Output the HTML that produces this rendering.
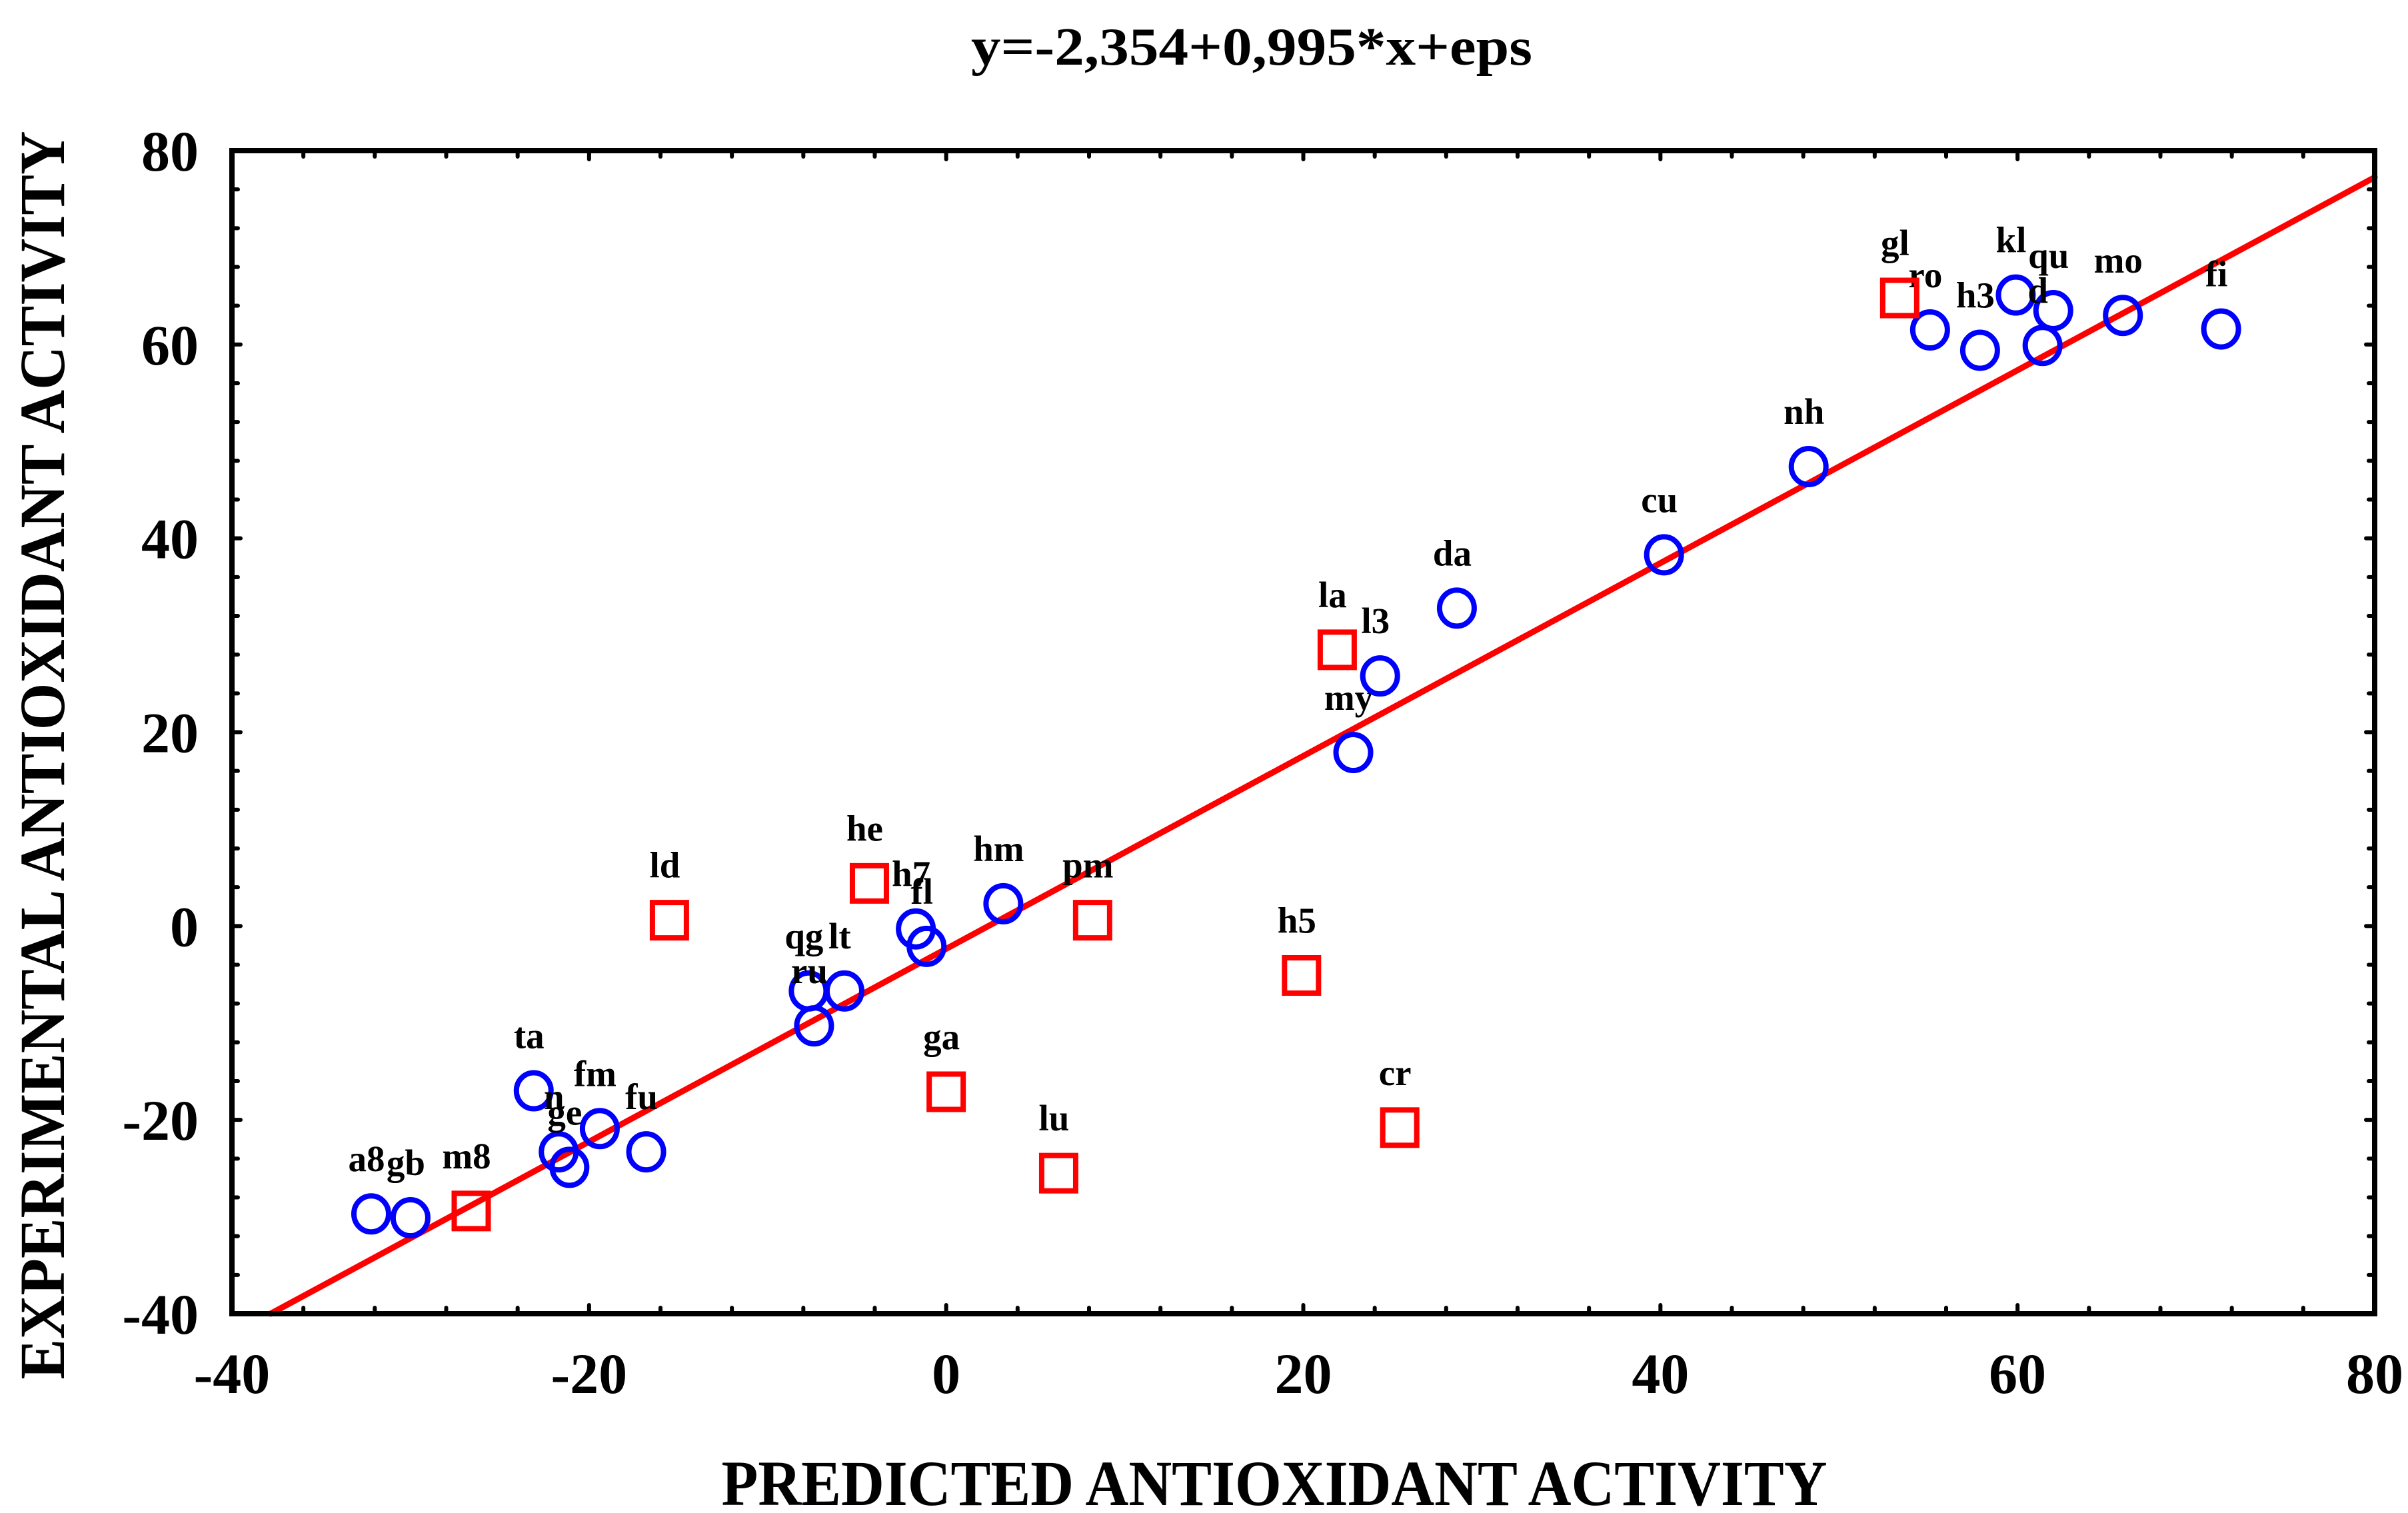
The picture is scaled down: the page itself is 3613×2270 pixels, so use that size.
<!DOCTYPE html>
<html><head><meta charset="utf-8"><style>
html,body{margin:0;padding:0;background:#fff}
svg{display:block}
text{font-family:"Liberation Serif",serif;font-weight:bold;fill:#000}
</style></head><body>
<svg id="chart" width="3613" height="2270" viewBox="0 0 3613 2270" xmlns="http://www.w3.org/2000/svg">
<text x="1878" y="97" font-size="80" text-anchor="middle" textLength="842" lengthAdjust="spacingAndGlyphs">y=-2,354+0,995*x+eps</text>
<text x="1912" y="2258" font-size="96" text-anchor="middle" textLength="1659" lengthAdjust="spacingAndGlyphs">PREDICTED ANTIOXIDANT ACTIVITY</text>
<text transform="translate(96,1133) rotate(-90)" x="0" y="0" font-size="96" text-anchor="middle" textLength="1873" lengthAdjust="spacingAndGlyphs">EXPERIMENTAL ANTIOXIDANT ACTIVITY</text>
<g id="ticks"></g>
<g id="fit"></g>
<g id="marks"></g>
<rect x="348" y="226" width="3215" height="1745" fill="none" stroke="#000" stroke-width="8"/>
</svg>
<script>
const xTicks = [-40, -20, 0, 20, 40, 60, 80];
const yTicks = [-40, -20, 0, 20, 40, 60, 80];
const fitIntercept = -2.354;
const fitSlope = 0.995;
const circleNames = ["a8","gb","ta","n","ge","fm","fu","qg","ru","lt","h7","fl","hm","my","l3","da","cu","nh","ro","h3","kl","qu","d","mo","fi"];
const circleX = [-32.2,-30.0,-23.1,-21.7,-21.1,-19.4,-16.8,-7.7,-7.4,-5.7,-1.7,-1.1,3.2,22.8,24.3,28.6,40.2,48.3,55.1,57.9,59.9,62.0,61.4,65.9,71.4];
const circleY = [-29.7,-30.1,-17.0,-23.3,-24.9,-20.9,-23.3,-6.7,-10.3,-6.7,-0.3,-2.1,2.3,17.9,25.8,32.8,38.3,47.4,61.5,59.4,65.1,63.5,59.9,63.0,61.6];
const squareNames = ["m8","ld","he","ga","lu","pm","h5","cr","la","gl"];
const squareX = [-26.6,-15.5,-4.3,0.0,6.3,8.2,19.9,25.4,21.9,53.4];
const squareY = [-29.4,0.6,4.4,-17.1,-25.5,0.6,-5.1,-20.8,28.5,64.8];

const NS = "http://www.w3.org/2000/svg";
const L = 348, R = 3563, T = 226, B = 1971;
const xMin = -40, xMax = 80, yMin = -40, yMax = 80;
function sx(v){ return L + (v - xMin) / (xMax - xMin) * (R - L); }
function sy(v){ return B - (v - yMin) / (yMax - yMin) * (B - T); }
function mk(tag, attrs){ const e = document.createElementNS(NS, tag); for (const k in attrs) e.setAttribute(k, attrs[k]); return e; }

const ticks = document.getElementById('ticks');
for (let v = xMin; v <= xMax; v += 4) {
  const major = (v % 20 === 0);
  const len = major ? 13 : 9;
  const x = sx(v);
  const t1 = mk('line', {x1:x, y1:B, x2:x, y2:B-len, stroke:'#000', 'stroke-width':6, 'stroke-linecap':'round'});
  
  
  ticks.appendChild(t1);
  const t2 = mk('line', {x1:x, y1:T, x2:x, y2:T+len, stroke:'#000', 'stroke-width':6, 'stroke-linecap':'round'});
  
  
  ticks.appendChild(t2);
}
for (let v = yMin; v <= yMax; v += 4) {
  const major = (v % 20 === 0);
  const len = major ? 13 : 9;
  const y = sy(v);
  const t1 = mk('line', {x1:L, y1:y, x2:L+len, y2:y, stroke:'#000', 'stroke-width':6, 'stroke-linecap':'round'});
  
  
  ticks.appendChild(t1);
  const t2 = mk('line', {x1:R, y1:y, x2:R-len, y2:y, stroke:'#000', 'stroke-width':6, 'stroke-linecap':'round'});
  
  
  ticks.appendChild(t2);
}
xTicks.forEach(v => {
  const t = mk('text', {x:sx(v), y:2090, 'font-size':86, 'text-anchor':'middle'});
  t.textContent = String(v);
  
  
  ticks.appendChild(t);
});
yTicks.forEach(v => {
  const t = mk('text', {x:298, y:sy(v)+30, 'font-size':86, 'text-anchor':'end'});
  t.textContent = String(v);
  
  
  ticks.appendChild(t);
});

const fit = document.getElementById('fit');
const xa = Math.max(xMin, (yMin - fitIntercept) / fitSlope);
const xb = Math.min(xMax, (yMax - fitIntercept) / fitSlope);
const line = mk('line', {x1:sx(xa), y1:sy(fitIntercept + fitSlope*xa), x2:sx(xb), y2:sy(fitIntercept + fitSlope*xb), stroke:'#ff0000', 'stroke-width':9, 'stroke-linecap':'round'});


fit.appendChild(line);

const marks = document.getElementById('marks');
const LDX = -7, LDY = -64;
circleNames.forEach((n, i) => {
  const cx = sx(circleX[i]), cy = sy(circleY[i]);
  const c = mk('ellipse', {cx:cx, cy:cy, rx:26, ry:27, fill:'none', stroke:'#0000ff', 'stroke-width':8});
  
  
  marks.appendChild(c);
  const t = mk('text', {x:cx+LDX, y:cy+LDY, 'font-size':55, 'text-anchor':'middle'});
  t.textContent = n;
  
  
  marks.appendChild(t);
});
squareNames.forEach((n, i) => {
  const cx = sx(squareX[i]), cy = sy(squareY[i]);
  const s = mk('rect', {x:cx-25.5, y:cy-26.5, width:51, height:53, fill:'none', stroke:'#ff0000', 'stroke-width':8});
  
  
  marks.appendChild(s);
  const t = mk('text', {x:cx+LDX, y:cy+LDY, 'font-size':55, 'text-anchor':'middle'});
  t.textContent = n;
  
  
  marks.appendChild(t);
});
</script>
</body></html>
